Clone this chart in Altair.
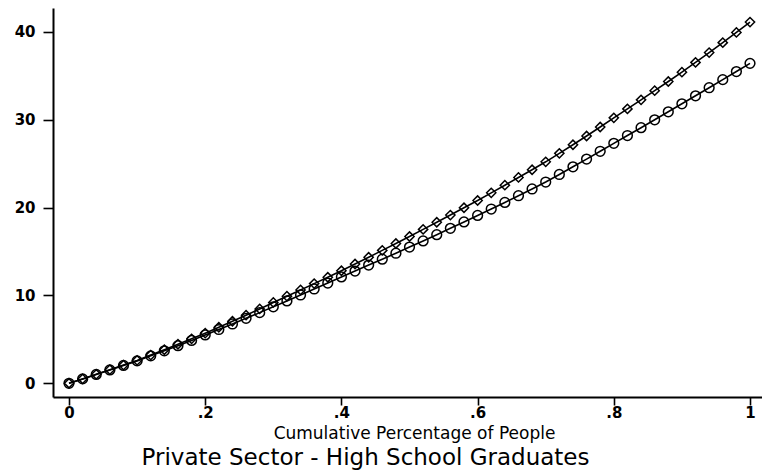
import altair as alt
import pandas as pd

# Cumulative share of people (x) and the two cumulative curves (y)
x_share = [round(i * 0.02, 2) for i in range(51)]

upper_curve = [
    0.00, 0.50, 1.02, 1.55, 2.07, 2.60,
    3.21, 3.82, 4.44, 5.06, 5.70,
    6.38, 7.06, 7.75, 8.46, 9.20,
    9.91, 10.62, 11.34, 12.06, 12.80,
    13.57, 14.34, 15.12, 15.90, 16.70,
    17.51, 18.32, 19.14, 19.97, 20.80,
    21.67, 22.54, 23.42, 24.30, 25.20,
    26.16, 27.14, 28.14, 29.16, 30.20,
    31.22, 32.25, 33.29, 34.34, 35.40,
    36.51, 37.63, 38.76, 39.92, 41.10,
]

lower_curve = [
    0.00, 0.50, 1.01, 1.52, 2.03, 2.55,
    3.12, 3.70, 4.28, 4.88, 5.50,
    6.12, 6.75, 7.39, 8.04, 8.70,
    9.37, 10.05, 10.73, 11.41, 12.10,
    12.77, 13.45, 14.12, 14.80, 15.50,
    16.20, 16.91, 17.63, 18.36, 19.10,
    19.83, 20.58, 21.34, 22.11, 22.90,
    23.76, 24.63, 25.51, 26.40, 27.30,
    28.19, 29.08, 29.98, 30.89, 31.80,
    32.71, 33.63, 34.55, 35.47, 36.40,
]

series_names = ["upper", "lower"]
series_shapes = ["diamond", "circle"]

x_ticks = [0, 0.2, 0.4, 0.6, 0.8, 1]
x_tick_labels = ["0", ".2", ".4", ".6", ".8", "1"]
y_ticks = [0, 10, 20, 30, 40]

x_title = "Cumulative Percentage of People"
chart_title = "Private Sector - High School Graduates"

df = pd.concat([
    pd.DataFrame({"share": x_share, "value": upper_curve, "series": series_names[0]}),
    pd.DataFrame({"share": x_share, "value": lower_curve, "series": series_names[1]}),
])

# label expression built from the tick lists
label_expr = "''"
for v, lab in reversed(list(zip(x_ticks, x_tick_labels))):
    label_expr = f"abs(datum.value - {v}) < 1e-6 ? '{lab}' : ({label_expr})"

x_enc = alt.X(
    "share:Q",
    scale=alt.Scale(domain=[-0.0235, 1.0176], nice=False, zero=False),
    axis=alt.Axis(
        values=x_ticks, labelExpr=label_expr, title=x_title,
        tickSize=8, labelPadding=0,
        titleX=361, titleY=41.5, titleAlign="center", titleBaseline="alphabetic",
        titleFont="DejaVu Sans", titleFontSize=17, titleFontWeight="normal",
    ),
)
y_enc = alt.Y(
    "value:Q",
    scale=alt.Scale(domain=[-1.56, 42.7], nice=False, zero=False),
    axis=alt.Axis(values=y_ticks, title=None, tickSize=10, labelPadding=8),
)

base = alt.Chart(df)

lines = base.mark_line(color="black", strokeWidth=1.6).encode(
    x=x_enc, y=y_enc, detail="series:N"
)

points = base.mark_point(filled=False, color="black", strokeWidth=1.5, opacity=1).encode(
    x=x_enc,
    y=y_enc,
    shape=alt.Shape("series:N", scale=alt.Scale(domain=series_names, range=series_shapes), legend=None),
    size=alt.Size("series:N", scale=alt.Scale(domain=series_names, range=[85, 95]), legend=None),
)

chart = (
    alt.layer(lines, points)
    .properties(
        width=709,
        height=389,
        background="white",
        autosize=alt.AutoSizeParams(type="none"),
        padding={"left": 53, "top": 8, "right": 0, "bottom": 73},
        title=alt.TitleParams(
            chart_title, orient="bottom", anchor="middle", dx=-42, dy=2, offset=3,
            font="DejaVu Sans", fontSize=23, fontWeight="normal", color="black",
        ),
    )
    .configure_view(stroke=None)
    .configure_axis(
        grid=False,
        domainColor="black", domainWidth=2,
        tickColor="black", tickWidth=1.6,
        labelColor="black", titleColor="black",
        labelFont="DejaVu Sans", labelFontSize=15, labelFontWeight="bold",
    )
)

chart.save("out.html", embed_options={"renderer": "svg", "actions": False})
